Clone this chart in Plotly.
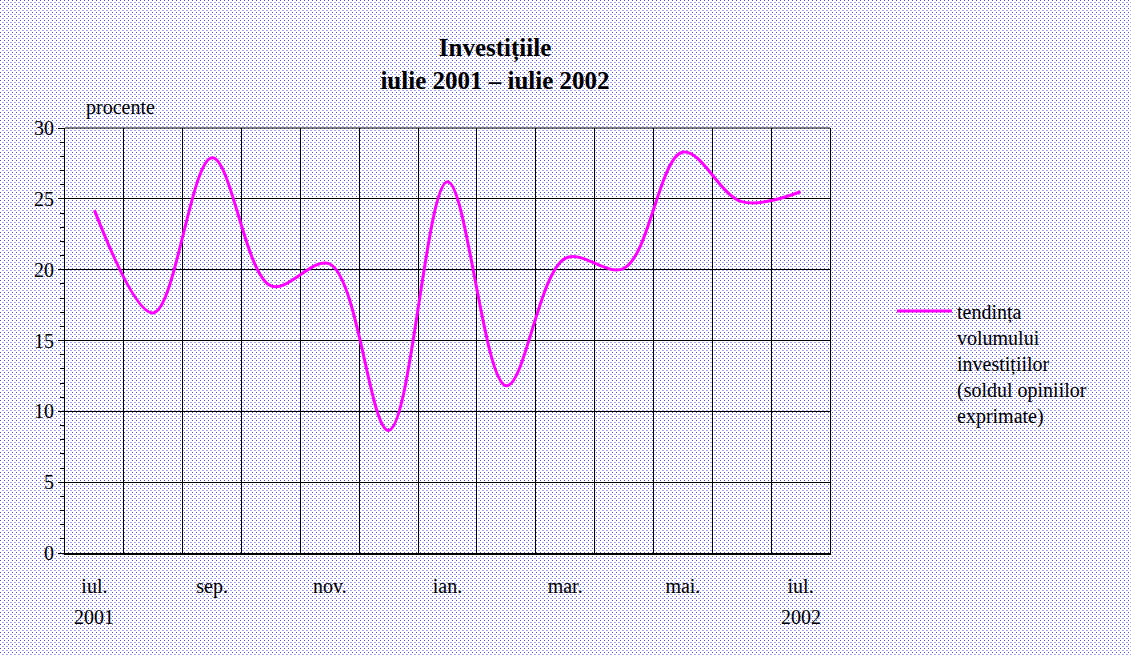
import base64
import plotly.graph_objects as go

# date lunare: tendinta volumului investitiilor (sold %)
luni = ['iul.', 'aug.', 'sep.', 'oct.', 'nov.', 'dec.', 'ian.',
        'feb.', 'mar.', 'apr.', 'mai.', 'iun.', 'iul.']
valori = [24.2, 16.95, 27.9, 18.85, 20.4, 8.65, 26.2,
          11.8, 20.8, 20.1, 28.3, 24.8, 25.5]
ani = {0: '2001', 12: '2002'}
nume_serie = 'tendința<br>volumului<br>investițiilor<br>(soldul opiniilor<br>exprimate)'

W, H = 1131, 655
ML, MR, MT, MB = 65, 301, 128, 102
PW, PH = W - ML - MR, H - MT - MB

x = list(range(len(luni)))

fig = go.Figure()
fig.add_trace(go.Scatter(
    x=x, y=valori, mode='lines', name='tendința volumului investițiilor',
    line=dict(color='#ff00ff', width=3, shape='spline', smoothing=1.0),
    showlegend=False
))

# fundal punctat (ca in graficul original)
svg = (
    f'<svg xmlns="http://www.w3.org/2000/svg" width="{W}" height="{H}">'
    '<defs><pattern id="p" width="4" height="4" patternUnits="userSpaceOnUse">'
    '<rect width="4" height="4" fill="#ffffff"/>'
    '<rect x="0" y="0" width="1" height="1" fill="#5050c8"/>'
    '<rect x="2" y="2" width="2" height="1" fill="#a8a8ee"/>'
    '</pattern></defs>'
    f'<rect width="{W}" height="{H}" fill="url(#p)"/></svg>'
)
src = 'data:image/svg+xml;base64,' + base64.b64encode(svg.encode()).decode()
fig.add_layout_image(dict(
    source=src, xref='paper', yref='paper',
    x=-ML / PW, y=1 + MT / PH, sizex=W / PW, sizey=H / PH,
    xanchor='left', yanchor='top', sizing='stretch', layer='below'
))

font = 'Liberation Serif, Times New Roman, serif'
tick_idx = list(range(0, len(luni), 2))

fig.update_layout(
    width=W, height=H,
    margin=dict(l=ML, r=MR, t=MT, b=MB),
    paper_bgcolor='#e6e6f5', plot_bgcolor='white',
    font=dict(family=font, size=20, color='black'),
    title=dict(text='<b>Investițiile<br>iulie 2001 – iulie 2002</b>',
               x=495 / W, xanchor='center', y=1 - 56 / H, yanchor='top',
               font=dict(size=25)),
    showlegend=False,
)

fig.update_xaxes(
    range=[-0.5, len(luni) - 0.5],
    tickvals=tick_idx, ticktext=[luni[i] for i in tick_idx],
    ticks='', ticklabelstandoff=14,
    showgrid=False, zeroline=False,
    showline=True, linecolor='black', linewidth=2,
    minor=dict(tickvals=[i + 0.5 for i in range(len(luni) - 1)],
               showgrid=True, gridcolor='black', gridwidth=1, ticks=''),
)
fig.update_yaxes(
    range=[0, 30], dtick=5, tick0=0,
    ticks='outside', ticklen=6, tickcolor='black',
    showgrid=True, gridcolor='black', gridwidth=1, zeroline=False,
    showline=True, linecolor='black', linewidth=1, mirror=True,
    minor=dict(dtick=1, ticks='outside', ticklen=4, tickcolor='black', showgrid=False),
)

# chenar sus
fig.add_shape(type='line', xref='paper', yref='paper', x0=0, x1=1, y0=1, y1=1,
              line=dict(color='black', width=1))

# anii sub etichetele lunilor
for i, an in ani.items():
    fig.add_annotation(x=i, y=-(617 - 553) / PH, xref='x', yref='paper',
                       text=an, showarrow=False, yanchor='middle',
                       font=dict(size=20))

fig.add_annotation(x=(84 - ML) / PW, y=(553 - 107) / PH, xref='paper', yref='paper',
                   text='procente', showarrow=False, xanchor='left', yanchor='middle',
                   font=dict(size=20))

# legenda (linie + text pe mai multe randuri)
leg_y = (553 - 311) / PH
fig.add_shape(type='line', xref='paper', yref='paper',
              x0=(897 - ML) / PW, x1=(952 - ML) / PW, y0=leg_y, y1=leg_y,
              line=dict(color='#ff00ff', width=3))
fig.add_annotation(x=(955 - ML) / PW, y=(553 - 299) / PH, xref='paper', yref='paper',
                   text=nume_serie, showarrow=False, xanchor='left', yanchor='top',
                   align='left', font=dict(size=20))

fig.write_html("out.html", config={'displayModeBar': False},
               post_script="document.body.style.margin='0';")
